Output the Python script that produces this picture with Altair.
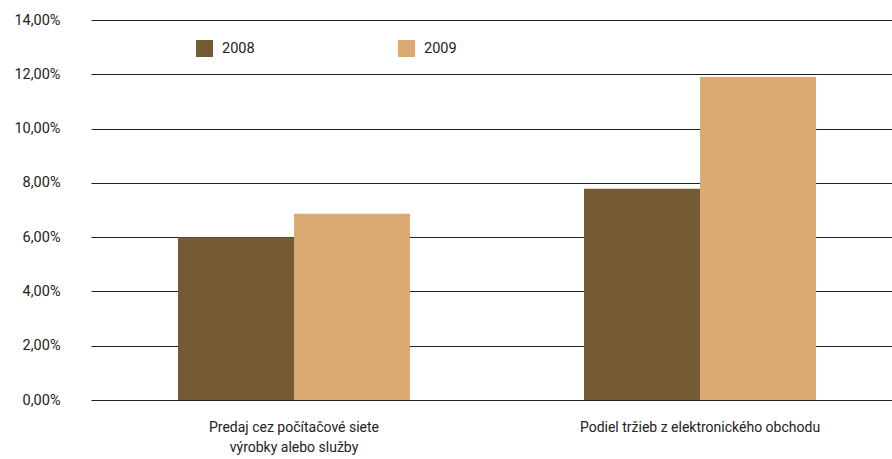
import altair as alt
import pandas as pd

categories = ["Predaj cez počítačové siete výrobky alebo služby",
              "Podiel tržieb z elektronického obchodu"]
years = ["2008", "2009"]
values_2008 = [6.00, 7.78]
values_2009 = [6.86, 11.90]
y_ticks = [0, 2, 4, 6, 8, 10, 12, 14]

rows = []
for i, c in enumerate(categories):
    rows.append({"kategoria": c, "rok": years[0], "hodnota": values_2008[i]})
    rows.append({"kategoria": c, "rok": years[1], "hodnota": values_2009[i]})
df = pd.DataFrame(rows)

FONT = "Roboto, 'DejaVu Sans Condensed', sans-serif"

label_expr = ("datum.value == '" + categories[0] +
              "' ? ['Predaj cez počítačové siete', 'výrobky alebo služby'] : datum.value")

chart = alt.Chart(df).mark_bar().encode(
    x=alt.X("kategoria:N", sort=categories, title=None,
            scale=alt.Scale(range=[0, 812], paddingInner=0, paddingOuter=0),
            axis=alt.Axis(labelAngle=0, domain=False, ticks=False, grid=False,
                          labelExpr=label_expr,
                          labelBaseline="top", labelPadding=20, labelLineHeight=20,
                          labelFontSize=14, labelColor="#222222", labelFont=FONT,
                          labelLimit=400)),
    xOffset=alt.XOffset("rok:N", sort=years,
                        scale=alt.Scale(paddingInner=0, paddingOuter=0.75)),
    y=alt.Y("hodnota:Q", title=None,
            scale=alt.Scale(domain=[0, 14], nice=False),
            axis=alt.Axis(values=y_ticks, domain=False, ticks=False, grid=True,
                          gridColor="#222222", gridWidth=1, gridOpacity=1,
                          labelExpr="replace(format(datum.value, '.2f'), '.', ',') + '%'",
                          labelPadding=31, labelFontSize=14.5, labelColor="#222222",
                          labelFont=FONT)),
    color=alt.Color("rok:N", sort=years, title=None,
                    scale=alt.Scale(domain=years, range=["#745B33", "#DAAA72"]),
                    legend=alt.Legend(orient="none", legendX=105, legendY=20,
                                      direction="horizontal", symbolType="square",
                                      symbolSize=289, symbolStrokeWidth=0,
                                      symbolOpacity=1, labelFontSize=14.5,
                                      labelFont=FONT, labelColor="#222222",
                                      columnPadding=143, padding=0, labelOffset=9)),
).properties(
    width=801, height=380,
    autosize=alt.AutoSizeParams(type="none"),
    padding={"left": 91, "top": 20, "right": 0, "bottom": 59},
).configure_view(stroke=None, strokeWidth=0)

chart.save("out.html", embed_options={"renderer": "svg", "actions": False})
